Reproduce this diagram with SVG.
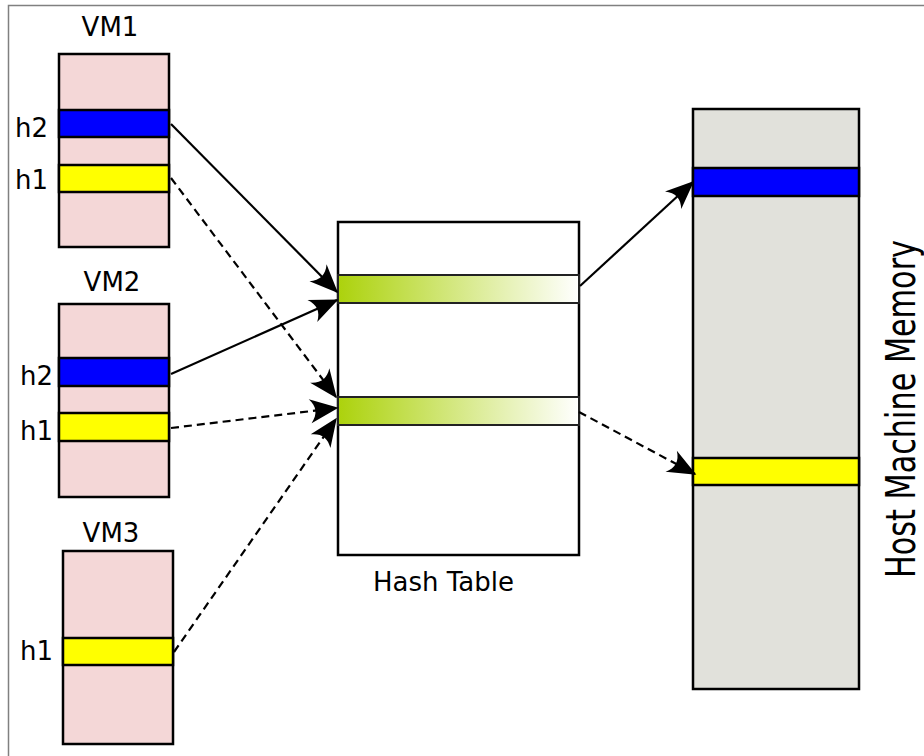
<svg xmlns="http://www.w3.org/2000/svg" width="924" height="756" viewBox="0 0 924 756">
  <style>
    .lbl { font-family: "DejaVu Sans", "Liberation Sans", sans-serif; font-size: 26px; fill: #000; }
    .vm { fill: #f4d7d7; stroke: #000; stroke-width: 2.5; }
    .blue { fill: #0000ff; stroke: #000; stroke-width: 2.5; }
    .yellow { fill: #ffff00; stroke: #000; stroke-width: 2.5; }
    .mem { fill: #e1e1db; stroke: #000; stroke-width: 2.5; }
    .table { fill: #ffffff; stroke: #000; stroke-width: 2.5; }
    .slot { fill: url(#slotFill); stroke: #222; stroke-width: 2; }
    .link { fill: none; stroke: #000; stroke-width: 2.2; }
    .dash { stroke-dasharray: 8 5; }
  </style>
  <defs>
    <linearGradient id="slotFill" x1="0" y1="0" x2="1" y2="0">
      <stop offset="0" stop-color="#acd20c"/>
      <stop offset="1" stop-color="#ffffff"/>
    </linearGradient>
    <marker id="head" markerUnits="userSpaceOnUse" markerWidth="32" markerHeight="28" viewBox="-29 -14 32 28" refX="0" refY="0" orient="auto">
      <path d="M1.5,0 L-27,-12 C-20,-4 -20,4 -27,12 Z" fill="#000"/>
    </marker>
  </defs>

  <rect x="8.5" y="5.5" width="1000" height="800" fill="#ffffff" stroke="#808080" stroke-width="1.5"/>

  <g id="vm1">
    <text class="lbl" x="110" y="36" text-anchor="middle">VM1</text>
    <rect class="vm" x="59" y="54" width="110" height="193"/>
    <rect class="blue" x="59" y="110" width="110" height="27"/>
    <rect class="yellow" x="59" y="165" width="110" height="27"/>
    <text class="lbl" x="48" y="137" text-anchor="end">h2</text>
    <text class="lbl" x="48" y="189" text-anchor="end">h1</text>
  </g>

  <g id="vm2">
    <text class="lbl" x="112" y="291" text-anchor="middle">VM2</text>
    <rect class="vm" x="59" y="304" width="110" height="193"/>
    <rect class="blue" x="59" y="358" width="110" height="28"/>
    <rect class="yellow" x="59" y="413" width="110" height="28"/>
    <text class="lbl" x="53" y="385" text-anchor="end">h2</text>
    <text class="lbl" x="53" y="440" text-anchor="end">h1</text>
  </g>

  <g id="vm3">
    <text class="lbl" x="111" y="542" text-anchor="middle">VM3</text>
    <rect class="vm" x="63" y="551" width="110" height="193"/>
    <rect class="yellow" x="63" y="638" width="110" height="27"/>
    <text class="lbl" x="53" y="660" text-anchor="end">h1</text>
  </g>

  <g id="hash-table">
    <rect class="table" x="338" y="222" width="241" height="333"/>
    <rect class="slot" x="338" y="275" width="241" height="28"/>
    <rect class="slot" x="338" y="397" width="241" height="28"/>
    <text class="lbl" x="443.5" y="591" text-anchor="middle">Hash Table</text>
  </g>

  <g id="host-memory">
    <rect class="mem" x="693" y="109" width="166" height="580"/>
    <rect class="blue" x="693" y="168" width="166" height="28"/>
    <rect class="yellow" x="693" y="458" width="166" height="27"/>
    <text x="915" y="409" text-anchor="middle" transform="rotate(-90 915 409)" textLength="338" lengthAdjust="spacingAndGlyphs" style="font-family: 'DejaVu Sans', 'Liberation Sans', sans-serif; font-size: 41px; fill: #000;">Host Machine Memory</text>
  </g>

  <g id="connectors">
    <line class="link" x1="171" y1="124" x2="337" y2="292" marker-end="url(#head)"/>
    <line class="link dash" x1="171" y1="178" x2="336" y2="397" marker-end="url(#head)"/>
    <line class="link" x1="171" y1="374" x2="337" y2="300" marker-end="url(#head)"/>
    <line class="link dash" x1="171" y1="428" x2="337" y2="408" marker-end="url(#head)"/>
    <line class="link dash" x1="174" y1="652" x2="336" y2="419" marker-end="url(#head)"/>
    <line class="link" x1="580" y1="286" x2="693" y2="182" marker-end="url(#head)"/>
    <line class="link dash" x1="579" y1="412" x2="695" y2="474" marker-end="url(#head)"/>
  </g>
</svg>
